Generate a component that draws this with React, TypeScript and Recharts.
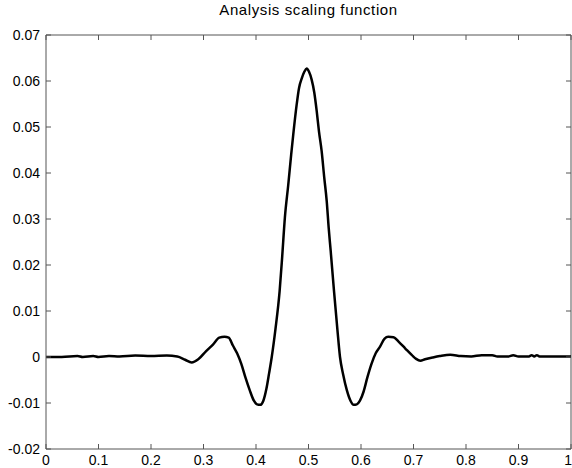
import { Line, LineChart, ReferenceLine, XAxis, YAxis } from "recharts"

const xs = [
  0, 0.03, 0.06, 0.07, 0.09, 0.1, 0.12, 0.14, 0.17, 0.2, 0.23, 0.25, 0.265, 0.2775, 0.29, 0.305,
  0.318, 0.33, 0.34, 0.348, 0.356, 0.364, 0.372, 0.38, 0.388, 0.396, 0.402, 0.408, 0.414, 0.42,
  0.425, 0.43, 0.437, 0.445, 0.45, 0.455, 0.4615, 0.467, 0.471, 0.4775, 0.482, 0.487, 0.492,
  0.4965, 0.501, 0.506, 0.511, 0.5156, 0.52, 0.525, 0.53, 0.5347, 0.5385, 0.5423, 0.5486, 0.555,
  0.56, 0.566, 0.573, 0.58, 0.586, 0.592, 0.598, 0.605, 0.612, 0.62, 0.628, 0.636, 0.645, 0.652,
  0.662, 0.672, 0.684, 0.697, 0.705, 0.713, 0.722, 0.737, 0.75, 0.77, 0.79, 0.81, 0.83, 0.85,
  0.86, 0.88, 0.89, 0.9, 0.92, 0.925, 0.93, 0.935, 0.94, 1,
]
const ys = [
  0, 0, 0.0002, 0, 0.0002, 0, 0.0002, 0.0001, 0.0003, 0.0002, 0.0003, 0.0001, -0.0006, -0.0012,
  -0.0005, 0.0013, 0.0027, 0.0042, 0.0044, 0.0042, 0.0025, 0.0008, -0.0015, -0.0045, -0.0072,
  -0.0095, -0.0103, -0.0104, -0.0095, -0.0068, -0.0035, 0, 0.006, 0.0143, 0.022, 0.0303, 0.0375,
  0.044, 0.0484, 0.0549, 0.0585, 0.0605, 0.062, 0.0627, 0.062, 0.0603, 0.0575, 0.0535, 0.049,
  0.0448, 0.039, 0.0339, 0.028, 0.023, 0.0143, 0.006, 0, -0.0038, -0.0072, -0.0095, -0.0104,
  -0.0103, -0.0095, -0.0075, -0.0045, -0.0015, 0.0008, 0.0022, 0.004, 0.0044, 0.0043, 0.0033,
  0.0019, 0.0004, -0.0004, -0.0008, -0.0005, -0.0001, 0.0002, 0.0005, 0.0002, 0.0001, 0.0004,
  0.0004, 0.0001, 0.0001, 0.0004, 0.0001, 0.0001, 0.0004, 0.0001, 0.0004, 0.0001, 0.0001,
]

const xTicks = [0, 0.1, 0.2, 0.3, 0.4, 0.5, 0.6, 0.7, 0.8, 0.9, 1]
const yTicks = [-0.02, -0.01, 0, 0.01, 0.02, 0.03, 0.04, 0.05, 0.06, 0.07]

const data = xs.map((x, i) => ({ x, y: ys[i] }))

// plot box
const W = 572
const H = 468
const TOP = 35
const BOTTOM = 449
const LEFT = 46
const RIGHT = 571
const TICK = 5

const font = "'Liberation Sans', Arial, sans-serif"
const axisColor = "#555"

function XTick(props: any) {
  const { x, payload } = props
  const last = payload.value === 1
  return (
    <g>
      <line x1={x} x2={x} y1={BOTTOM} y2={BOTTOM - TICK} stroke={axisColor} />
      <line x1={x} x2={x} y1={TOP} y2={TOP + TICK} stroke={axisColor} />
      <text
        x={last ? x + 1 : x}
        y={BOTTOM + 16}
        textAnchor={last ? "end" : "middle"}
        fontSize={14}
        fontFamily={font}
        fill="#000"
      >
        {String(payload.value)}
      </text>
    </g>
  )
}

function YTick(props: any) {
  const { y, payload } = props
  return (
    <g>
      <line x1={LEFT} x2={LEFT + TICK} y1={y} y2={y} stroke={axisColor} />
      <line x1={RIGHT} x2={RIGHT - TICK} y1={y} y2={y} stroke={axisColor} />
      <text x={LEFT - 6} y={y + 5} textAnchor="end" fontSize={14} fontFamily={font} fill="#000">
        {String(payload.value)}
      </text>
    </g>
  )
}

export default function App() {
  return (
    <div style={{ position: "absolute", left: 0, top: 0, width: W, height: H, background: "#fff" }}>
      <div
        style={{
          position: "absolute",
          top: 1,
          left: LEFT,
          width: RIGHT - LEFT,
          textAlign: "center",
          fontFamily: font,
          fontSize: 15,
          letterSpacing: 0.6,
          color: "#000",
        }}
      >
        Analysis scaling function
      </div>
      <LineChart
        width={W}
        height={H}
        data={data}
        margin={{ top: TOP, right: W - RIGHT, bottom: 0, left: 0 }}
      >
        <XAxis
          dataKey="x"
          type="number"
          domain={[0, 1]}
          ticks={xTicks}
          height={H - BOTTOM}
          tick={XTick}
          tickLine={false}
          stroke={axisColor}
          interval={0}
        />
        <YAxis
          type="number"
          domain={[-0.02, 0.07]}
          ticks={yTicks}
          width={LEFT}
          tick={YTick}
          tickLine={false}
          stroke={axisColor}
          interval={0}
        />
        <ReferenceLine y={0.07} stroke={axisColor} ifOverflow="visible" />
        <ReferenceLine x={1} stroke={axisColor} ifOverflow="visible" />
        <Line
          dataKey="y"
          type="monotone"
          stroke="#000"
          strokeWidth={2.5}
          dot={false}
          isAnimationActive={false}
        />
      </LineChart>
    </div>
  )
}
